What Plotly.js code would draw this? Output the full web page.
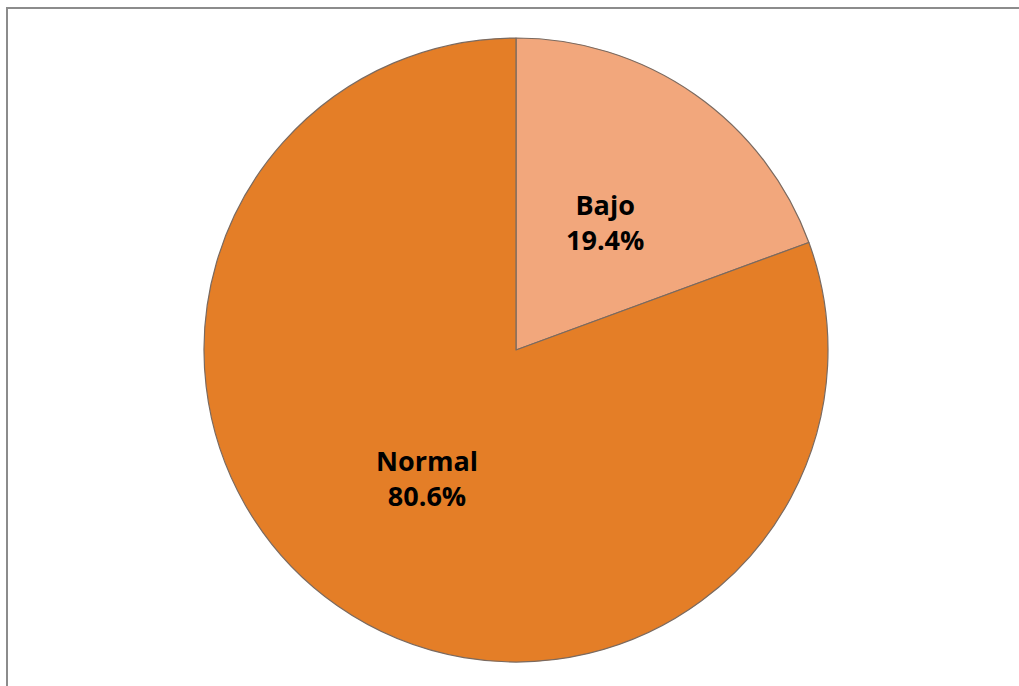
<!DOCTYPE html>
<html>
<head>
<meta charset="utf-8">
<script src="https://cdn.plot.ly/plotly-3.0.1.min.js"></script>
<style>html,body{margin:0;padding:0;background:#fff;overflow:hidden;}#chart{width:1019px;height:686px;}</style>
</head>
<body>
<div id="chart"></div>
<script>
const categories = ["Bajo", "Normal"];
const values = [19.4, 80.6];
const colors = ["#F2A77C", "#E47E27"];

const W = 1019, H = 686;
const domX = [(516-312)/W, (516+312)/W];
const domY = [(336-312)/H, (336+312)/H];

const trace = {
  type: "pie",
  labels: categories,
  values: values,
  sort: false,
  direction: "clockwise",
  rotation: 0,
  marker: {colors: colors, line: {color: "#7a6a60", width: 1.2}},
  textinfo: "none",
  hoverinfo: "label+percent",
  showlegend: false,
  domain: {x: domX, y: domY}
};

// Labels placed at half radius along each slice's mid-angle (as in the source chart)
const total = values.reduce((a, b) => a + b, 0);
const cxPx = (domX[0] + domX[1]) / 2 * W;
const cyPx = (domY[0] + domY[1]) / 2 * H;
const rPx = Math.min((domX[1] - domX[0]) * W, (domY[1] - domY[0]) * H) / 2;
let cum = 0;
const annotations = values.map((v, i) => {
  const mid = (cum + v / 2) / total * 2 * Math.PI;
  cum += v;
  const x = cxPx + 0.5 * rPx * Math.sin(mid);
  const y = cyPx + 0.5 * rPx * Math.cos(mid);
  return {
    xref: "paper", yref: "paper", x: x / W, y: y / H,
    xanchor: "center", yanchor: "middle", showarrow: false,
    text: "<b>" + categories[i] + "<br>" + (v / total * 100).toFixed(1) + "%</b>",
    font: {family: "Open Sans, Liberation Sans, sans-serif", size: 27, color: "#000"}
  };
});

const layout = {
  width: W, height: H,
  margin: {l: 0, r: 0, t: 0, b: 0},
  paper_bgcolor: "#fff",
  showlegend: false,
  annotations: annotations,
  shapes: [{type: "rect", xref: "paper", yref: "paper",
    x0: 7/W, x1: 1.05, y0: -0.05, y1: 1 - 8/H,
    line: {color: "#8c8c8c", width: 2}}]
};

Plotly.newPlot("chart", [trace], layout, {displayModeBar: false, staticPlot: true});
</script>
</body>
</html>
